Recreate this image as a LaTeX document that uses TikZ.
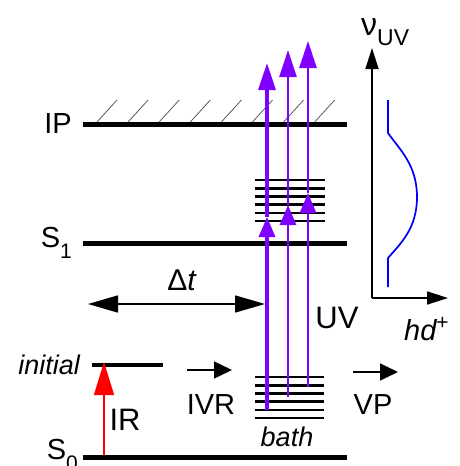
\documentclass[tikz,border=0pt]{standalone}
\usepackage{fontspec}
\setmainfont{Liberation Sans}
\usetikzlibrary{arrows.meta, positioning}
\definecolor{uvpurple}{HTML}{8000FF}
\definecolor{irred}{HTML}{FF0000}
\definecolor{specblue}{HTML}{0000FF}
\newcommand{\lowidx}[1]{\raisebox{-0.38em}{\fontsize{21}{24}\selectfont #1}}
\tikzset{
	level/.style={line width=5pt},
	sublevel/.style={line width=2.6pt},
	hatch/.style={draw=black!65, line width=0.8pt},
	lbl/.style={font=\fontsize{29}{34}\selectfont, inner sep=0pt},
	ilbl/.style={font=\fontsize{27}{32}\selectfont\itshape, inner sep=0pt},
	uvtop/.style={-{Triangle[length=27pt,width=17pt]}, draw=uvpurple, fill=uvpurple},
	uvmid/.style={-{Triangle[length=20pt,width=16pt]}, draw=uvpurple, fill=uvpurple},
	karr/.style={-{Triangle[length=18pt,width=17pt]}, line width=1.5pt},
	axarr/.style={-{Triangle[length=21pt,width=13pt]}, line width=1.7pt}
}

\begin{document}
\begin{tikzpicture}[x=1pt, y=-1pt]
	\useasboundingbox (0,0) rectangle (460,466);
	% levels
	\coordinate (ipL) at (83,124);  \coordinate (ipR) at (347,124);
	\coordinate (s1L) at (83,243);  \coordinate (s1R) at (347,243);
	\coordinate (s0L) at (83,457);  \coordinate (s0R) at (347,457);
	\coordinate (initL) at (92,365); \coordinate (initR) at (163,365);
	\draw[level] (ipL) -- (ipR);
	\draw[level] (s1L) -- (s1R);
	\draw[level] (s0L) -- (s0R);
	\draw[line width=3.5pt] (initL) -- (initR);
	\foreach \i in {0,...,7}
		\draw[hatch] (97+31.1*\i,122) -- ++(20,-22);
	\node[lbl, left=11pt of ipL] (ip) {IP};
	\node[lbl, left=11pt of s1L] (s1) {S\lowidx{1}};
	\node[lbl, left=5pt of s0L, yshift=2pt] (s0) {S\lowidx{0}};
	\node[ilbl, left=12pt of initL] (init) {initial};
	% vibrational stacks
	\foreach \yy in {180,188.2,...,222}
		\draw[sublevel] (255,\yy) -- (325,\yy);
	\foreach \yy in {377,385.2,...,419}
		\draw[sublevel] (255,\yy) -- (324,\yy);
	\node[ilbl] (bath) at (287,437) {bath};
	% UV probe
	\foreach \nm/\ux/\ubot/\umid/\utop/\lw in {uvA/267/410/217/63/3.2, uvB/288/397/205/50/2.8, uvC/308/387/193/41/2.8} {
		\coordinate (\nm0) at (\ux,\ubot);
		\coordinate (\nm1) at (\ux,\umid);
		\coordinate (\nm2) at (\ux,\utop);
		\draw[uvmid, line width=\lw pt] (\nm0) -- (\nm1);
		\draw[uvtop, line width=\lw pt] (\nm1) -- (\nm2);
	}
	\node[lbl, font=\fontsize{31}{36}\selectfont] (uv) at (337,318) {UV};
	% IR pump
	\coordinate (irB) at (104,455);
	\coordinate (irT) at (104,362);
	\draw[-{Triangle[length=33pt,width=20pt]}, draw=irred, fill=irred, line width=1.5pt] (irB) -- (irT);
	\node[lbl, font=\fontsize{31}{36}\selectfont] (ir) at (125,420) {IR};
	% delay
	\coordinate (dtL) at (88,304); \coordinate (dtR) at (265,304);
	\draw[{Triangle[length=30pt,width=17pt]}-{Triangle[length=30pt,width=17pt]}, line width=1.5pt] (dtL) -- (dtR);
	\node[lbl, font=\fontsize{30}{34}\selectfont] (dt) at (182,280) {Δ\textit{t}};
	% IVR and VP
	\coordinate (ivrA) at (187,370); \coordinate (ivrB) at (232,370);
	\coordinate (vpA) at (353,372); \coordinate (vpB) at (398,372);
	\draw[karr] (ivrA) -- (ivrB);
	\draw[karr] (vpA) -- (vpB);
	\node[lbl] (ivr) at (211,405) {IVR};
	\node[lbl] (vp) at (373,405) {VP};
	% spectrum axes
	\coordinate (orig) at (372,298);
	\coordinate (yTip) at (372,48);
	\coordinate (xTip) at (448,298);
	\draw[axarr] (orig) -- (yTip);
	\draw[axarr] (orig) -- (xTip);
	\node[anchor=base west, inner sep=0pt, font=\fontsize{32}{36}\selectfont] (nuuv) at (361,35)
		{ν\raisebox{-10pt}{\fontsize{23}{26}\selectfont UV}};
	\node[anchor=base west, inner sep=0pt, font=\fontsize{29}{34}\selectfont\itshape] (hd) at (404,340)
		{hd\raisebox{11pt}{\fontsize{21}{24}\selectfont\upshape +}};
	\draw[specblue, line width=1.7pt] (388,100) -- (388,133)
		.. controls (400,150) and (417,165) .. (417,197)
		.. controls (417,229) and (400,244) .. (388,258) -- (388,287);
\end{tikzpicture}
\end{document}
